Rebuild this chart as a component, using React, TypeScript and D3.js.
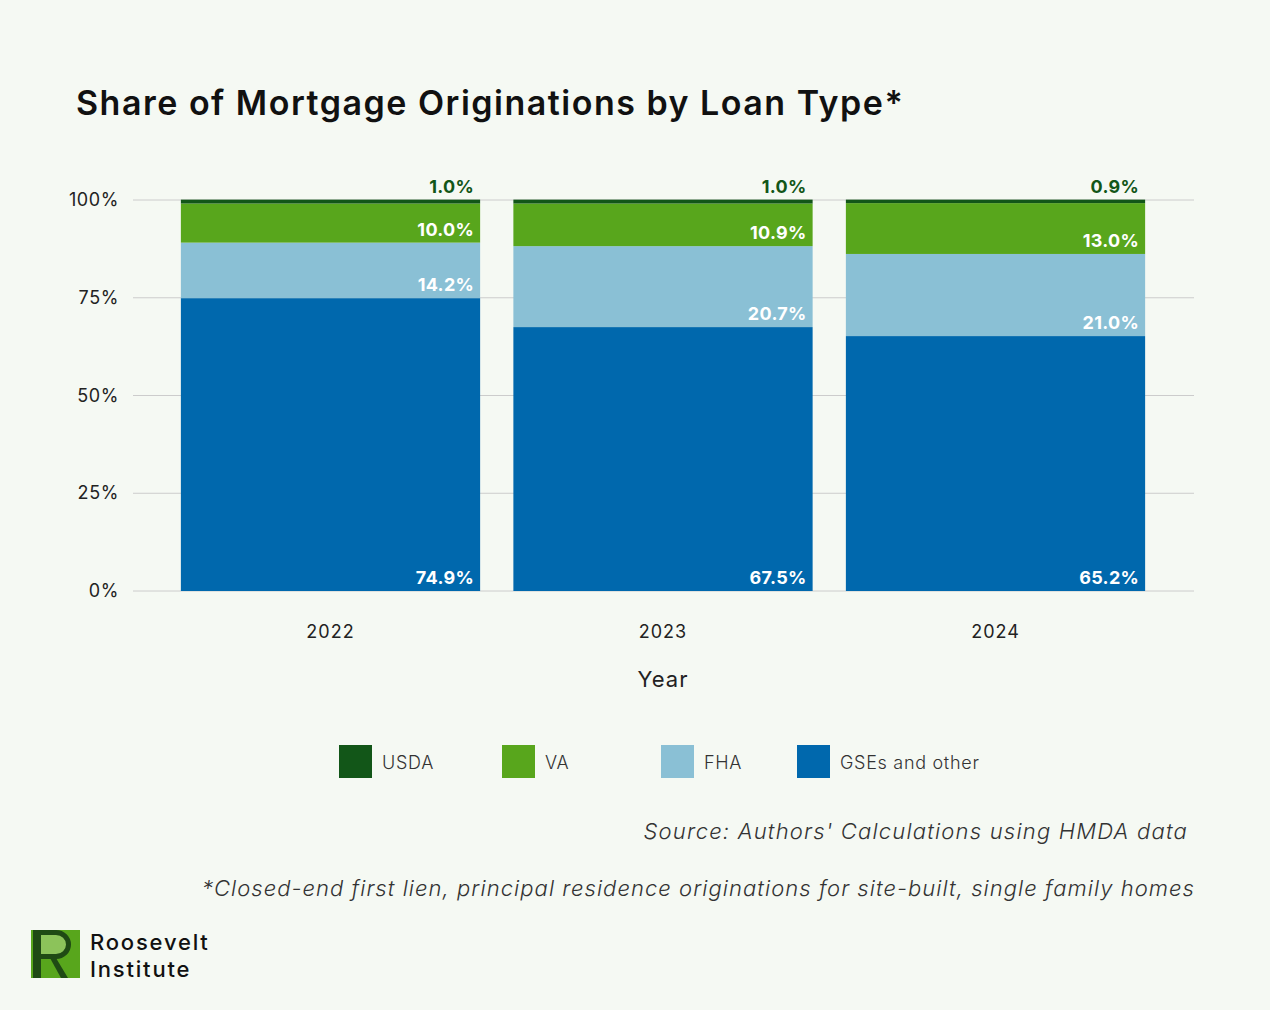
import React from "react";
import * as d3 from "d3";

const years = ["2022", "2023", "2024"];
const seriesNames = ["GSEs and other", "FHA", "VA", "USDA"];
const gseValues = [74.9, 67.5, 65.2];
const fhaValues = [14.2, 20.7, 21.0];
const vaValues = [10.0, 10.9, 13.0];
const usdaValues = [1.0, 1.0, 0.9];
const yTicks = [0, 25, 50, 75, 100];
const legendOrder = ["USDA", "VA", "FHA", "GSEs and other"];
const colors: Record<string, string> = {
  USDA: "#125618",
  VA: "#58a61c",
  FHA: "#8ac0d5",
  "GSEs and other": "#0068ad",
};
const labelColors: Record<string, string> = {
  USDA: "#125618",
  VA: "#ffffff",
  FHA: "#ffffff",
  "GSEs and other": "#ffffff",
};

const W = 1270;
const H = 1010;
const FONT = "Inter, 'Open Sans', sans-serif";

export default function App() {
  const rows = years.map((y, i) => ({
    year: y,
    "GSEs and other": gseValues[i],
    FHA: fhaValues[i],
    VA: vaValues[i],
    USDA: usdaValues[i],
  }));
  const stack = d3.stack<any>().keys(seriesNames);
  const series = stack(rows);

  const x = d3
    .scaleBand()
    .domain(years)
    .range([164.25, 1161.75])
    .paddingInner(0.1)
    .paddingOuter(0.05);
  const y = d3.scaleLinear().domain([0, 100]).range([591, 200]);
  const gridX0 = 133;
  const gridX1 = 1194;

  const legendX = [339, 502, 661, 797];

  return (
    <svg
      width={W}
      height={H}
      style={{ position: "absolute", left: 0, top: 0, display: "block" }}
      fontFamily={FONT}
    >
      <rect x={0} y={0} width={W} height={H} fill="#f5f9f3" />
      <text x={76} y={115} fontSize={34} fontWeight={600} letterSpacing={1.5} fill="#111">
        Share of Mortgage Originations by Loan Type*
      </text>

      {yTicks.map((t) => (
        <g key={t}>
          <line x1={gridX0} x2={gridX1} y1={y(t)} y2={y(t)} stroke="#cccccc" strokeWidth={1} />
          <text x={119} y={y(t) + 6} textAnchor="end" fontSize={18} letterSpacing={0.6} fill="#222">
            {t}%
          </text>
        </g>
      ))}

      {series.map((s) => (
        <g key={s.key}>
          {s.map((d: any, i: number) => {
            const yr = years[i];
            const top = y(Math.min(d[1], 100.1));
            const bottom = y(d[0]);
            const right = (x(yr) as number) + x.bandwidth();
            const isTop = s.key === "USDA";
            const ly = isTop ? y(d[1]) - 7 : bottom - 7;
            return (
              <g key={yr}>
                <rect
                  x={x(yr)}
                  y={top}
                  width={x.bandwidth()}
                  height={bottom - top}
                  fill={colors[s.key]}
                />
                <text
                  x={right - 6}
                  y={ly}
                  textAnchor="end"
                  fontSize={18}
                  fontWeight={700}
                  letterSpacing={0.3}
                  fill={labelColors[s.key]}
                >
                  {(d[1] - d[0]).toFixed(1)}%
                </text>
              </g>
            );
          })}
        </g>
      ))}

      {years.map((yr) => (
        <text
          key={yr}
          x={(x(yr) as number) + x.bandwidth() / 2}
          y={638}
          textAnchor="middle"
          fontSize={18}
          letterSpacing={1}
          fill="#222"
        >
          {yr}
        </text>
      ))}
      <text x={663} y={687} textAnchor="middle" fontSize={22} letterSpacing={1} fill="#222">
        Year
      </text>

      {legendOrder.map((k, i) => (
        <g key={k}>
          <rect x={legendX[i]} y={745} width={33} height={33} fill={colors[k]} />
          <text x={legendX[i] + 43} y={769} fontSize={18} fontWeight={300} letterSpacing={0.7} fill="#333">
            {k}
          </text>
        </g>
      ))}

      <text x={1188} y={839} textAnchor="end" fontSize={22} fontWeight={300} fontStyle="italic" letterSpacing={1.2} fill="#333">
        Source: Authors' Calculations using HMDA data
      </text>
      <text x={1195} y={896} textAnchor="end" fontSize={22} fontWeight={300} fontStyle="italic" letterSpacing={1.05} fill="#333">
        *Closed-end first lien, principal residence originations for site-built, single family homes
      </text>

      <g>
        <rect x={31} y={930} width={49} height={48} fill="#58a61c" />
        <path d="M40,932 L56,932 A14,13 0 0 1 56,958 L40,958 Z" fill="#8cc35a" />
        <rect x={33} y={930} width={8} height={48} fill="#1f4a14" />
        <path d="M41,930 L56,930 A15,14.5 0 0 1 56,959 L41,959 L41,954 L56,954 A10,9.5 0 0 0 56,935 L41,935 Z" fill="#1f4a14" />
        <path d="M50,958 L56,958 L68,978 L61,978 Z" fill="#1f4a14" />
        <text x={90} y={950} fontSize={22} fontWeight={500} letterSpacing={1.8} fill="#111">
          Roosevelt
        </text>
        <text x={90} y={977} fontSize={22} fontWeight={500} letterSpacing={1.8} fill="#111">
          Institute
        </text>
      </g>
    </svg>
  );
}
